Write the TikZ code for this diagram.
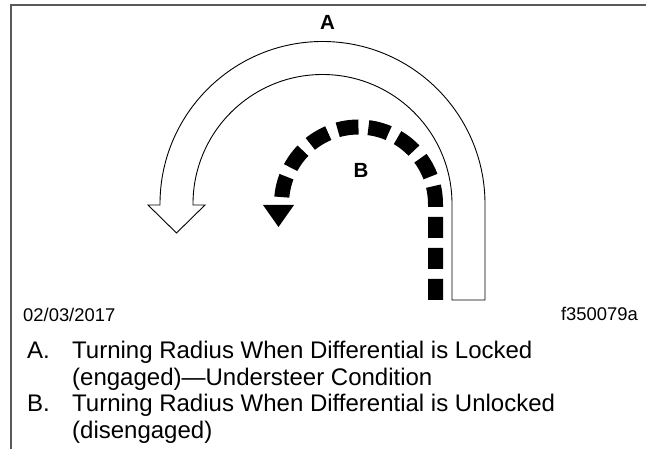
\documentclass[tikz,border=0pt]{standalone}
\usepackage{fontspec}
\setmainfont{Liberation Sans}

\begin{document}
\begin{tikzpicture}[x=1pt, y=1pt,
    legendtext/.style={inner sep=0pt, anchor=base west, font=\fontsize{24}{26}\selectfont},
    smalltext/.style={inner sep=0pt, font=\fontsize{18.4}{20}\selectfont},
    turnlabel/.style={inner sep=0pt, font=\fontsize{20.5}{22}\selectfont\bfseries}]
                \useasboundingbox (0,0) rectangle (646,449);

                \draw[line width=2pt, black!65] (11,0) -- (11,444) -- (646,444);

                \draw[line width=0.9pt, fill=white] (452,149) -- (452,245)
                    arc[start angle=0, end angle=180, radius=129.5]
                    -- (193,244) -- (205,244) -- (176.5,216) -- (148,244) -- (160,244) -- (160,245)
                    arc[start angle=180, end angle=0, radius=162.5]
                    -- (485,149) -- cycle;

                \draw[line width=15pt, dash pattern=on 21pt off 10pt] (435.5,149) -- (435.5,245)
                    arc[start angle=0, end angle=180, radius=77];
                \fill (263,244) -- (294,244) -- (278.5,222) -- cycle;

                \node[turnlabel] (labA) at (327.5,426.5) {A};
                \node[turnlabel] (labB) at (361,278.5) {B};

                \node[smalltext, anchor=base west] (date) at (23,127) {02/03/2017};
                \node[smalltext, anchor=base east] (fignum) at (638,128) {f350079a};

                \node[legendtext] (keyA) at (27,90) {A.};
                \node[legendtext] (textA) at (72,90) {Turning Radius When Differential is Locked};
                \node[legendtext] (textA2) at (72,63.5) {(engaged)—Understeer Condition};
                \node[legendtext] (keyB) at (27,37) {B.};
                \node[legendtext] (textB) at (72,37) {Turning Radius When Differential is Unlocked};
                \node[legendtext] (textB2) at (72,10.5) {(disengaged)};

            \end{tikzpicture}
\end{document}
